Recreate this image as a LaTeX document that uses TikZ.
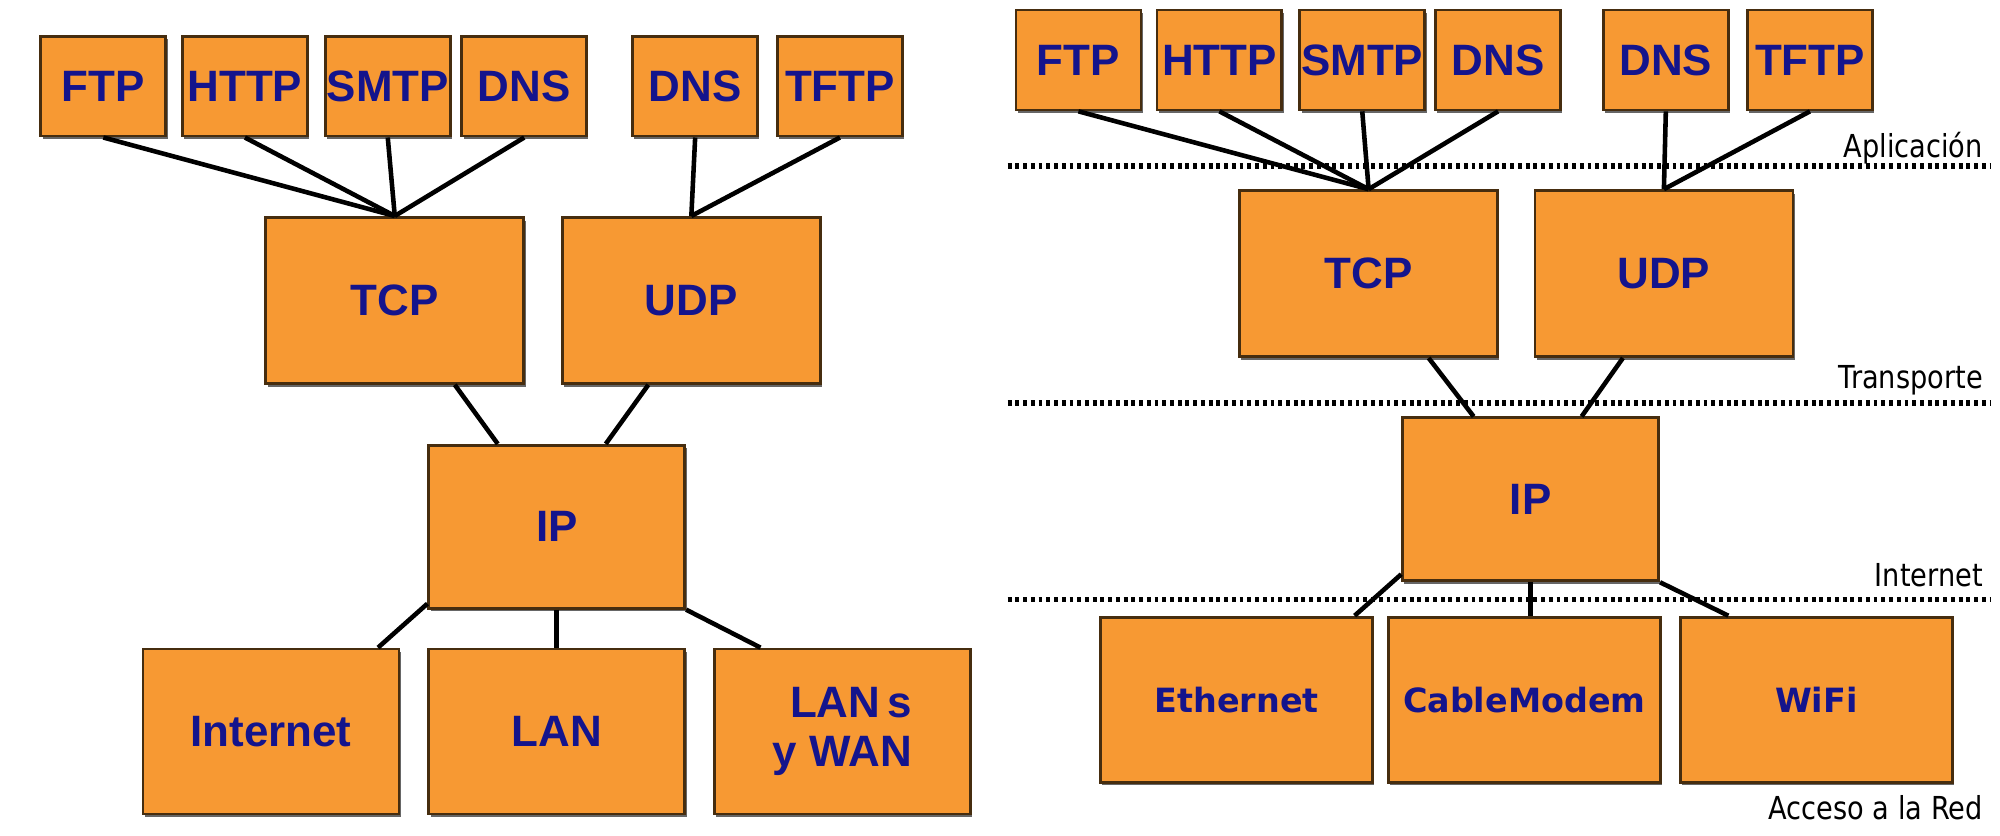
\documentclass[tikz,border=0pt]{standalone}
\usepackage{fontspec}
\newfontfamily\arialfont{Liberation Sans}
\newfontfamily\dejafont{DejaVu Sans}
\newfontfamily\layerfont[FakeStretch=0.86]{DejaVu Sans}
\usetikzlibrary{shadows}
\definecolor{boxorange}{RGB}{247,153,51}
\definecolor{boxedge}{RGB}{70,45,15}
\definecolor{labelblue}{RGB}{20,20,140}
\begin{document}
\begin{tikzpicture}[x=0.012755cm,y=-0.012755cm,
  box/.style={draw=boxedge,fill=boxorange,line width=0.8pt,inner sep=0pt,text=labelblue,
    drop shadow={shadow xshift=0.5pt,shadow yshift=-0.9pt,opacity=0.6,fill=black}},
  proto/.style={box,minimum width=1.25cm,minimum height=1.0cm,font=\arialfont\bfseries\fontsize{12.5}{14}\selectfont},
  transp/.style={proto,minimum width=2.58cm,minimum height=1.66cm},
  inet/.style={proto,minimum width=2.56cm,minimum height=1.63cm},
  linkbox/.style={proto,minimum width=2.56cm,minimum height=1.65cm},
  linkwide/.style={box,minimum width=2.72cm,minimum height=1.65cm,font=\dejafont\bfseries\fontsize{9.5}{11}\selectfont},
  wire/.style={line width=1.3pt},
  divider/.style={line width=1.6pt,dash pattern=on 1.1pt off 1.1pt},
  layer/.style={anchor=east,inner sep=0pt,font=\layerfont\fontsize{9}{10}\selectfont}]
  \useasboundingbox (0,0) rectangle (1568,655);
  % left stack
  \node[proto] (lftp) at (81,67.5) {FTP};
  \node[proto] (lhttp) at (192,67.5) {HTTP};
  \node[proto] (lsmtp) at (304,67.5) {SMTP};
  \node[proto] (ldns) at (411,67.5) {DNS};
  \node[proto] (ldnsb) at (545,67.5) {DNS};
  \node[proto] (ltftp) at (658.5,67.5) {TFTP};
  \node[transp] (ltcp) at (309.5,235.5) {TCP};
  \node[transp] (ludp) at (542,235.5) {UDP};
  \node[inet] (lip) at (436.5,413) {IP};
  \node[linkbox] (linet) at (212.5,573.5) {Internet};
  \node[linkbox] (llan) at (436.5,573.5) {LAN};
  \node[linkbox,align=right] (lwan) at (660.5,573.5) {LAN\,s\\y WAN};
  \foreach \n in {lftp,lhttp,lsmtp,ldns} \draw[wire] (\n.south) -- (ltcp.north);
  \foreach \n in {ldnsb,ltftp} \draw[wire] (\n.south) -- (ludp.north);
  \draw[wire] ([xshift=0.6cm]ltcp.south) -- ([xshift=-0.59cm]lip.north);
  \draw[wire] ([xshift=-0.43cm]ludp.south) -- ([xshift=0.49cm]lip.north);
  \draw[wire] ([yshift=0.06cm]lip.south west) -- ([xshift=1.07cm]linet.north);
  \draw[wire] (lip.south) -- (llan.north);
  \draw[wire] (lip.south east) -- ([xshift=-0.82cm]lwan.north);
  % right stack with layers
  \foreach \y in {130,316,470} \draw[divider] (790,\y) -- (1560,\y);
  \node[proto] (rftp) at (845.5,47) {FTP};
  \node[proto] (rhttp) at (956,47) {HTTP};
  \node[proto] (rsmtp) at (1068,47) {SMTP};
  \node[proto] (rdns) at (1174.5,47) {DNS};
  \node[proto] (rdnsb) at (1306,47) {DNS};
  \node[proto] (rtftp) at (1419,47) {TFTP};
  \node[transp] (rtcp) at (1073,214.5) {TCP};
  \node[transp] (rudp) at (1304.5,214.5) {UDP};
  \node[inet] (rip) at (1200,391.5) {IP};
  \node[linkwide] (reth) at (969.5,548.5) {Ethernet};
  \node[linkwide] (rcable) at (1195,548.5) {CableModem};
  \node[linkwide] (rwifi) at (1424,548.5) {WiFi};
  \foreach \n in {rftp,rhttp,rsmtp,rdns} \draw[wire] (\n.south) -- (rtcp.north);
  \foreach \n in {rdnsb,rtftp} \draw[wire] (\n.south) -- (rudp.north);
  \draw[wire] ([xshift=0.6cm]rtcp.south) -- ([xshift=-0.57cm]rip.north);
  \draw[wire] ([xshift=-0.41cm]rudp.south) -- ([xshift=0.51cm]rip.north);
  \draw[wire] ([yshift=0.08cm]rip.south west) -- ([xshift=1.18cm]reth.north);
  \draw[wire] (rip.south) -- (rip.south |- rcable.north);
  \draw[wire] (rip.south east) -- ([xshift=-0.88cm]rwifi.north);
  \node[layer] (appl) at (1555,116) {Aplicación};
  \node[layer] (transl) at (1555,298) {Transporte};
  \node[layer] (internl) at (1555,451) {Internet};
  \node[layer] (accessl) at (1555,633) {Acceso a la Red};
\end{tikzpicture}
\end{document}
